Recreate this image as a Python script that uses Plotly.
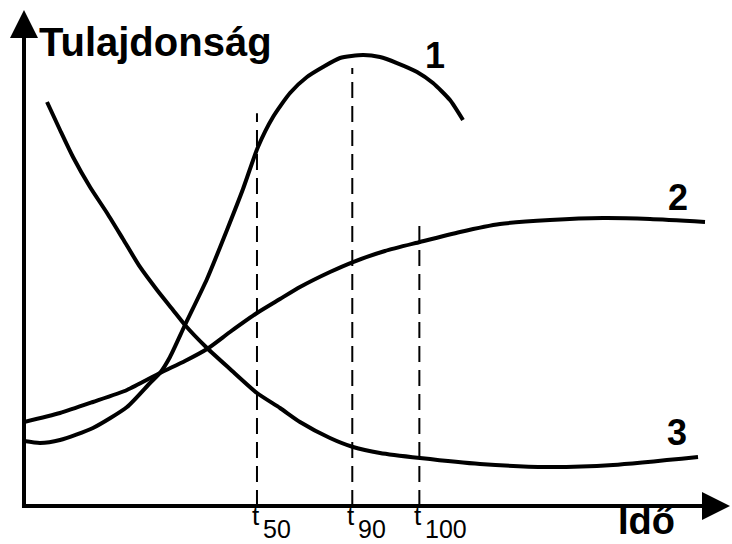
import plotly.graph_objects as go

# Görbék pontjai (idő és tulajdonság, tetszőleges egységekben, 0-100)
t_curve1 = [0, 2.27, 5.10, 9.77, 14.59, 17.85, 19.26, 20.68, 22.80, 25.92, 28.75, 31.02, 33.14,
            35.27, 37.68, 40.08, 42.35, 44.76, 48.02, 50.42, 52.83, 55.67, 57.93, 60.34, 62.18]
p_curve1 = [13.10, 12.70, 13.31, 15.73, 19.96, 24.80, 26.81, 30.04, 36.49, 45.77, 55.65, 63.91, 72.38,
            78.43, 83.27, 86.49, 88.51, 90.32, 90.93, 90.52, 89.31, 87.50, 85.28, 81.85, 77.82]

t_curve2 = [0, 5.10, 9.77, 14.59, 19.26, 22.80, 25.92, 29.18, 33.00, 36.26, 39.09, 43.34, 46.60,
            51.13, 56.09, 61.76, 67.42, 74.50, 82.01, 88.67, 96.46]
p_curve2 = [16.94, 18.75, 20.97, 23.39, 26.81, 29.23, 31.65, 35.08, 38.91, 41.73, 44.15, 47.18, 49.19,
            51.41, 53.23, 55.24, 56.85, 57.66, 58.06, 57.86, 57.26]

t_curve3 = [3.26, 5.10, 6.94, 9.35, 11.76, 14.02, 16.43, 18.84, 21.10, 22.80, 25.92, 29.18, 33.00,
            36.26, 39.09, 43.34, 46.60, 50.42, 56.09, 64.59, 74.08, 83.43, 95.47]
p_curve3 = [81.45, 75.81, 70.36, 64.31, 59.07, 53.83, 48.19, 43.55, 39.52, 36.49, 31.85, 27.62, 22.78,
            19.76, 16.94, 13.71, 11.90, 10.69, 9.68, 8.47, 7.86, 8.27, 9.88]

# Jellemző időpontok (szaggatott vonalak)
t_marks = [33.0, 46.5, 56.0]
t_mark_tops = [79.2, 88.3, 57.1]
t_mark_subs = ["50", "90", "100"]

curve_labels = ["1", "2", "3"]
curve_label_pos = [(58.2, 90.8), (92.6, 62.1), (92.5, 14.9)]

FONT = "Liberation Sans, Arial, sans-serif"

fig = go.Figure()

for tx, py in [(t_curve1, p_curve1), (t_curve2, p_curve2), (t_curve3, p_curve3)]:
    fig.add_trace(go.Scatter(
        x=tx, y=py, mode="lines",
        line=dict(color="black", width=4, shape="spline", smoothing=0.6),
        cliponaxis=False, hoverinfo="skip"
    ))

for tm, top in zip(t_marks, t_mark_tops):
    fig.add_trace(go.Scatter(
        x=[tm, tm], y=[0, top], mode="lines",
        line=dict(color="black", width=2, dash="16px,8px"),
        cliponaxis=False, hoverinfo="skip"
    ))

# Tengelyek nyíllal
fig.add_annotation(x=100, y=0, ax=-0.5, ay=0, xref="x", yref="y", axref="x", ayref="y",
                   text="", showarrow=True, arrowhead=2, arrowsize=1.4, arrowwidth=4,
                   arrowcolor="black", standoff=0)
fig.add_annotation(x=0, y=100, ax=0, ay=-0.5, xref="x", yref="y", axref="x", ayref="y",
                   text="", showarrow=True, arrowhead=2, arrowsize=1.4, arrowwidth=4,
                   arrowcolor="black", standoff=0)

fig.add_annotation(x=1.8, y=93.5, text="<b>Tulajdonság</b>", showarrow=False,
                   xanchor="left", yanchor="middle", font=dict(family=FONT, size=40, color="black"))
fig.add_annotation(x=88.2, y=-38 / 496, xref="x", yref="paper", text="<b>Idő</b>", showarrow=False,
                   xanchor="center", yanchor="bottom", font=dict(family=FONT, size=38, color="black"))

for lab, (lx, ly) in zip(curve_labels, curve_label_pos):
    fig.add_annotation(x=lx, y=ly, text=f"<b>{lab}</b>", showarrow=False,
                       xanchor="center", yanchor="middle", font=dict(family=FONT, size=36, color="black"))

# t jelölések: kisebb, megemelt "t" és mellette az index
for tm, sub in zip(t_marks, t_mark_subs):
    fig.add_annotation(x=tm, y=-0.020, xref="x", yref="paper", text="t",
                       showarrow=False, xshift=-7, xanchor="left", yanchor="middle",
                       font=dict(family=FONT, size=26, color="black"))
    fig.add_annotation(x=tm, y=-0.0455, xref="x", yref="paper", text=sub,
                       showarrow=False, xshift=4, xanchor="left", yanchor="middle",
                       font=dict(family=FONT, size=25, color="black"))

fig.update_xaxes(range=[0, 100], showgrid=False, zeroline=False, showticklabels=False, showline=False)
fig.update_yaxes(range=[0, 100], showgrid=False, zeroline=False, showticklabels=False, showline=False)
fig.update_layout(
    width=732, height=544,
    margin=dict(l=24, r=2, t=10, b=38),
    plot_bgcolor="white", paper_bgcolor="white",
    showlegend=False
)

fig.write_html("out.html", config={"displayModeBar": False},
               post_script="document.body.style.margin='0';")
